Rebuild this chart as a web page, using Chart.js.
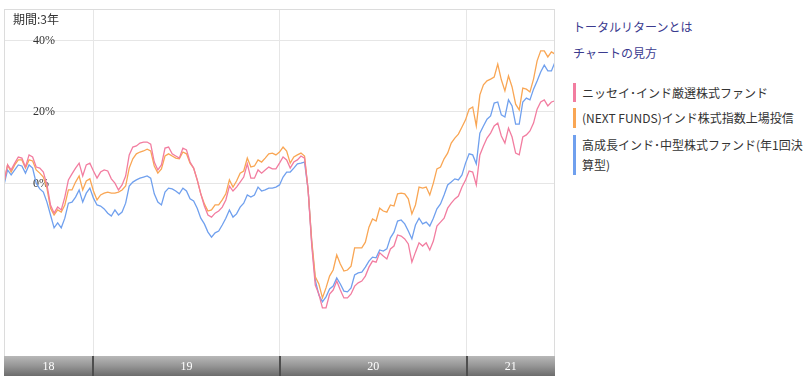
<!DOCTYPE html>
<html>
<head>
<meta charset="utf-8">
<script src="https://cdn.jsdelivr.net/npm/chart.js@4.4.1/dist/chart.umd.min.js"></script>
<style>
  body { margin: 0; background: #fff; font-family: "Noto Sans CJK JP", "Noto Sans", sans-serif; }
  #wrap { position: relative; width: 809px; height: 380px; overflow: hidden; }
  #chart { position: absolute; left: 0; top: 0; }
  #period { position: absolute; left: 13px; top: 11px; font-size: 12px; line-height: 16px; color: #333; }
  .link { position: absolute; left: 573px; font-size: 12px; line-height: 16px; color: #3b3b8f; white-space: nowrap; }
  .item { position: absolute; left: 573px; padding-left: 6px; border-left: 3px solid; font-size: 12px; color: #333; white-space: nowrap; }
</style>
</head>
<body>
<div id="wrap">
  <canvas id="chart" width="560" height="380"></canvas>
  <div id="period">期間:3年</div>
  <div class="link" style="top:19px">トータルリターンとは</div>
  <div class="link" style="top:45px">チャートの見方</div>
  <div id="legend"></div>
</div>
<script>
// chart values (% total return, weekly)
const yearLabels = ['18', '19', '20', '21'];
const yearStarts = [2019, 2020, 2021];
const yTicks = [0, 20, 40];
const seriesNames = [
  'ニッセイ･インド厳選株式ファンド',
  '(NEXT FUNDS)インド株式指数上場投信',
  '高成長インド･中型株式ファンド(年1回決<br>算型)'
];
const seriesColors = ['#f27da0', '#f9a654', '#70a0ee'];

const nissay = [
  0.4, 5.2, 3.8, 5.7, 7.4, 7.1, 4.6, 8.0, 7.4, 4.6, 4.3, 3.2, -0.4, -6.0, -8.3, -6.6, -7.4, -3.8, 1.0, 2.7,
  4.3, 5.7, 2.1, 5.2, 5.7, 3.5, 1.5, 3.2, 3.8, 3.5, 1.3, 0.1, -1.8, -0.4, 2.1, 8.0, 10.2, 10.5, 11.3, 11.6,
  11.6, 11.0, 6.0, 3.8, 5.2, 9.9, 10.2, 8.3, 7.7, 7.1, 9.9, 9.4, 6.0, 4.3, 1.0, -2.9, -6.3, -8.8, -9.4, -8.3,
  -7.7, -6.6, -4.6, -0.7, -2.1, -1.0, 0.4, 1.8, 5.5, 1.5, 1.5, 3.8, 2.9, 3.8, 4.6, 4.1, 4.1, 5.7, 7.4, 6.6,
  4.3, 6.0, 6.6, 7.7, 7.1, -1.8, -17.2, -28.4, -30.9, -34.8, -34.8, -30.9, -29.8, -27.3, -29.8, -32.0, -32.0, -30.9, -28.7, -27.8,
  -27.3, -25.9, -23.4, -21.7, -22.0, -19.4, -20.3, -21.1, -18.3, -17.5, -14.4, -14.7, -15.5, -16.9, -22.0, -19.2, -16.6, -17.5, -16.6, -18.6,
  -16.1, -11.9, -10.8, -9.7, -6.9, -5.5, -4.3, -3.5, -1.0, 1.0, 3.5, 3.2, -0.4, 8.0, 10.5, 12.7, 14.1, 16.1, 16.9, 13.3,
  11.3, 15.5, 13.0, 8.5, 8.0, 13.0, 13.6, 14.7, 16.9, 20.8, 22.8, 23.4, 21.7, 22.8, 23.1
];
const nextFunds = [
  0.4, 5.2, 3.2, 5.2, 6.6, 6.6, 4.3, 6.6, 6.3, 3.8, 2.9, 1.8, -1.3, -6.9, -8.8, -7.4, -8.0, -6.0, -1.8, -1.8,
  0.4, 2.1, -1.8, 0.7, 1.3, -2.1, -4.6, -3.2, -2.7, -2.4, -2.7, -2.7, -2.4, -1.8, -0.7, 4.3, 6.9, 8.3, 8.8, 9.1,
  9.6, 9.1, 4.9, 2.9, 4.1, 7.7, 8.3, 7.7, 7.1, 6.9, 8.8, 8.3, 5.7, 4.3, 1.0, -2.9, -5.7, -7.7, -7.4, -6.0,
  -6.0, -4.6, -2.9, 1.0, -1.0, 0.7, 2.9, 3.5, 7.1, 4.6, 4.9, 6.6, 6.0, 7.1, 8.3, 8.5, 8.0, 8.8, 10.2, 9.1,
  5.7, 7.4, 8.0, 8.5, 7.7, -1.8, -15.8, -26.1, -28.1, -32.0, -29.2, -25.9, -24.2, -20.0, -22.5, -24.5, -24.2, -23.1, -18.0, -18.0,
  -18.0, -16.4, -12.2, -9.9, -10.5, -6.9, -7.7, -8.0, -6.0, -6.3, -2.9, -2.7, -2.9, -4.3, -8.5, -6.0, -1.0, -1.3, -1.0, -3.2,
  0.1, 4.1, 4.6, 6.9, 8.5, 11.3, 12.7, 13.8, 15.8, 17.8, 20.8, 21.4, 16.1, 24.8, 27.6, 28.7, 29.2, 29.8, 33.4, 29.0,
  25.9, 30.1, 27.0, 22.2, 20.6, 26.7, 26.4, 25.6, 29.2, 34.3, 37.1, 37.1, 35.4, 36.8, 36.2
];
const koseicho = [
  -0.4, 3.8, 2.4, 3.8, 5.2, 4.9, 2.9, 5.2, 4.3, 0.1, -1.5, -2.4, -5.2, -8.8, -12.4, -11.0, -12.4, -9.7, -5.5, -5.2,
  -3.8, -1.8, -5.2, -2.7, -1.3, -4.1, -6.0, -6.3, -7.1, -8.3, -9.1, -7.4, -8.8, -8.0, -5.5, -0.7, 0.4, 1.0, 1.5, 1.8,
  2.1, 1.5, -2.9, -5.2, -6.0, -2.4, -1.3, -1.5, -2.1, -2.9, -1.3, -2.1, -4.3, -4.9, -6.9, -9.7, -11.3, -13.6, -15.0, -13.8,
  -13.3, -11.6, -9.7, -7.4, -9.4, -8.5, -6.6, -5.5, -3.2, -3.8, -3.2, -1.0, -2.1, -1.8, -1.3, -1.3, -1.0, -0.4, 1.8, 3.2,
  3.2, 4.3, 5.5, 5.7, 6.0, -1.8, -16.4, -27.0, -31.2, -33.1, -31.7, -29.5, -28.7, -26.4, -28.1, -30.1, -30.3, -29.2, -25.6, -25.0,
  -24.8, -23.4, -21.7, -20.6, -20.8, -18.6, -18.9, -18.3, -15.2, -13.6, -10.5, -10.2, -11.3, -13.3, -15.5, -11.6, -9.7, -11.3, -10.8, -11.9,
  -9.7, -7.1, -5.7, -3.2, -0.4, 0.4, 1.3, 1.0, 2.4, 5.7, 8.3, 8.0, 5.5, 14.1, 16.1, 18.0, 18.9, 22.5, 22.8, 19.2,
  18.6, 23.4, 21.7, 16.6, 16.6, 22.8, 23.9, 23.4, 26.4, 28.7, 31.2, 33.1, 31.5, 31.5, 34.0
];

const startYear = 2018.522;
const weekStep = 7 / 365.25;
const weeks = nissay.map((_, i) => startYear + i * weekStep);

// legend on the right
const legend = document.getElementById('legend');
const itemTops = [83, 108, 135];
seriesNames.forEach((name, i) => {
  const d = document.createElement('div');
  d.className = 'item';
  d.style.top = itemTops[i] + 'px';
  d.style.lineHeight = i === 0 ? '19px' : '20px';
  d.style.borderLeftColor = seriesColors[i];
  d.innerHTML = name;
  legend.appendChild(d);
});

// grey year band under the plot + light frame
const yearBand = {
  id: 'yearBand',
  afterDraw(chart) {
    const { ctx, chartArea: { left, right, top, bottom }, scales: { x } } = chart;
    const h = 20;
    ctx.save();
    ctx.strokeStyle = '#dcdcdc';
    ctx.lineWidth = 1;
    ctx.strokeRect(left + 0.5, top + 0.5, right - left - 1, bottom - top);
    const g = ctx.createLinearGradient(0, bottom, 0, bottom + h);
    g.addColorStop(0, '#b8b8b8');
    g.addColorStop(0.5, '#959595');
    g.addColorStop(1, '#6c6c6c');
    ctx.fillStyle = g;
    ctx.fillRect(left, bottom, right - left, h);
    const edges = [left, ...yearStarts.map(v => x.getPixelForValue(v)), right];
    ctx.fillStyle = '#4e4e4e';
    yearStarts.forEach(v => {
      const px = Math.round(x.getPixelForValue(v));
      ctx.fillRect(px - 1, bottom, 2, h);
    });
    ctx.fillStyle = '#fff';
    ctx.font = '12px "Liberation Serif", serif';
    ctx.textAlign = 'center';
    ctx.textBaseline = 'middle';
    yearLabels.forEach((t, i) => ctx.fillText(t, (edges[i] + edges[i + 1]) / 2, bottom + h / 2 + 1));
    ctx.restore();
  }
};

const toPoints = arr => arr.map((v, i) => ({ x: weeks[i], y: v }));

new Chart(document.getElementById('chart'), {
  type: 'line',
  data: {
    datasets: [nissay, nextFunds, koseicho].map((arr, i) => ({
      label: seriesNames[i],
      data: toPoints(arr),
      borderColor: seriesColors[i],
      borderWidth: 1.3,
      pointRadius: 0,
      tension: 0,
      fill: false
    }))
  },
  options: {
    responsive: false,
    animation: false,
    devicePixelRatio: 1,
    layout: { padding: { left: 4, top: 9, right: 5, bottom: 24 } },
    scales: {
      x: {
        type: 'linear',
        min: weeks[0],
        max: weeks[weeks.length - 1],
        afterBuildTicks: (s) => { s.ticks = yearStarts.map(v => ({ value: v })); },
        afterFit: (s) => { s.height = 0; s.paddingLeft = 0; s.paddingRight = 0; },
        ticks: { display: false },
        grid: { color: '#e6e6e6', drawTicks: false },
        border: { display: false }
      },
      y: {
        min: -48.25,
        max: 48.81,
        afterBuildTicks: (s) => { s.ticks = yTicks.map(v => ({ value: v })); },
        afterFit: (s) => { s.width = 0; s.paddingTop = 0; s.paddingBottom = 0; },
        ticks: {
          mirror: true,
          padding: 29,
          color: '#333',
          font: { family: '"Liberation Serif", serif', size: 12 },
          callback: (v) => v + '%'
        },
        grid: { color: '#e6e6e6', drawTicks: false },
        border: { display: false }
      }
    },
    plugins: {
      legend: { display: false },
      tooltip: { enabled: false }
    }
  },
  plugins: [yearBand]
});
</script>
</body>
</html>
